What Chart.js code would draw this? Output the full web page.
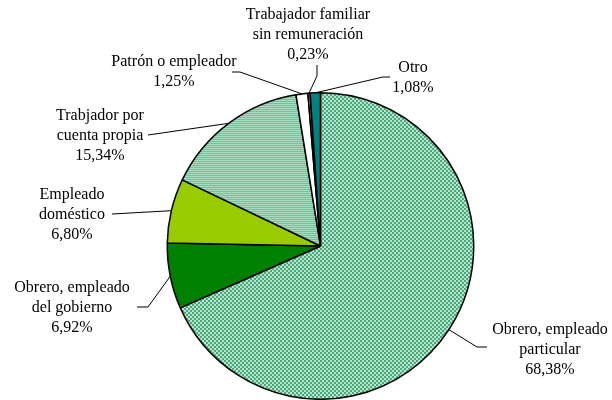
<!DOCTYPE html>
<html>
<head>
<meta charset="utf-8">
<script src="https://cdn.jsdelivr.net/npm/chart.js@4.4.0/dist/chart.umd.min.js"></script>
<style>
html,body{margin:0;padding:0;background:#fff;}
#wrap{width:612px;height:400px;position:relative;}
#fontprobe{position:absolute;left:-1000px;top:0;font-family:"Liberation Serif";font-size:16px;}
</style>
</head>
<body>
<div id="fontprobe">Obrero, empleado 0,23%</div>
<div id="wrap"><canvas id="c" width="612" height="400"></canvas></div>
<script>
// ---- data ----
const categories = [
  ["Obrero, empleado", "particular"],
  ["Obrero, empleado", "del gobierno"],
  ["Empleado", "doméstico"],
  ["Trabjador por", "cuenta propia"],
  ["Patrón o empleador"],
  ["Trabajador familiar", "sin remuneración"],
  ["Otro"]
];
const values = [68.38, 6.92, 6.80, 15.34, 1.25, 0.23, 1.08];

// ---- styling / layout (not data) ----
function checker(c1, c2) {
  const c = document.createElement('canvas'); c.width = 4; c.height = 4;
  const x = c.getContext('2d');
  x.fillStyle = c1; x.fillRect(0, 0, 4, 4);
  x.fillStyle = c2; x.fillRect(0, 0, 2, 2); x.fillRect(2, 2, 2, 2);
  return x.createPattern(c, 'repeat');
}
function stripes(c1, c2) {
  const c = document.createElement('canvas'); c.width = 4; c.height = 2;
  const x = c.getContext('2d');
  x.fillStyle = c1; x.fillRect(0, 0, 4, 1);
  x.fillStyle = c2; x.fillRect(0, 1, 4, 1);
  return x.createPattern(c, 'repeat');
}
const sliceColors = [
  checker('#b8e4cc', '#48aa7c'),
  '#008000',
  '#99cc00',
  stripes('#a6dbbf', '#76c29c'),
  '#ffffff',
  '#ff7373',
  '#008080'
];
const labelLayout = [
  {x: 550, y: 330, path: [[477, 347], [487, 347]]},
  {x: 72,  y: 288, path: [[148, 307], [137, 307]]},
  {x: 72,  y: 195, path: [[112, 214]]},
  {x: 100, y: 116, path: [[148, 135]]},
  {x: 174, y: 62,  path: [[240, 72], [232, 72]]},
  {x: 308, y: 15,  path: [[317, 76], [317, 65]]},
  {x: 413, y: 68,  path: [[383, 77], [390, 77]]}
];
const LINE_H = 20;
const LABEL_FONT = '16px "Liberation Serif", "Times New Roman", serif';

function fmtPct(v) { return v.toFixed(2).replace('.', ',') + '%'; }

const labelPlugin = {
  id: 'leaderLabels',
  afterDatasetsDraw(chart) {
    const ctx = chart.ctx;
    const meta = chart.getDatasetMeta(0);
    ctx.save();
    ctx.strokeStyle = '#000';
    ctx.lineWidth = 1;
    ctx.fillStyle = '#000';
    ctx.font = LABEL_FONT;
    ctx.textAlign = 'center';
    ctx.textBaseline = 'middle';
    meta.data.forEach((arc, i) => {
      const p = arc.getProps(['x', 'y', 'startAngle', 'endAngle', 'outerRadius'], true);
      const mid = (p.startAngle + p.endAngle) / 2;
      const sx = p.x + Math.cos(mid) * p.outerRadius;
      const sy = p.y + Math.sin(mid) * p.outerRadius;
      const L = labelLayout[i];
      ctx.beginPath();
      ctx.moveTo(sx, sy);
      L.path.forEach(pt => ctx.lineTo(pt[0], pt[1]));
      ctx.stroke();
      const lines = categories[i].concat([fmtPct(values[i])]);
      lines.forEach((t, j) => ctx.fillText(t, L.x, L.y + j * LINE_H));
    });
    ctx.restore();
  }
};

function build() {
  new Chart(document.getElementById('c'), {
    type: 'pie',
    data: {
      labels: categories.map(c => c.join(' ')),
      datasets: [{
        data: values,
        backgroundColor: sliceColors,
        borderColor: '#000',
        borderWidth: 1.5
      }]
    },
    options: {
      responsive: false,
      animation: false,
      layout: {padding: {left: 164, right: 135, top: 92, bottom: 0}},
      plugins: {legend: {display: false}, tooltip: {enabled: false}}
    },
    plugins: [labelPlugin]
  });
}
if (document.fonts && document.fonts.load) {
  document.fonts.load(LABEL_FONT).then(build, build);
} else {
  build();
}
</script>
</body>
</html>
